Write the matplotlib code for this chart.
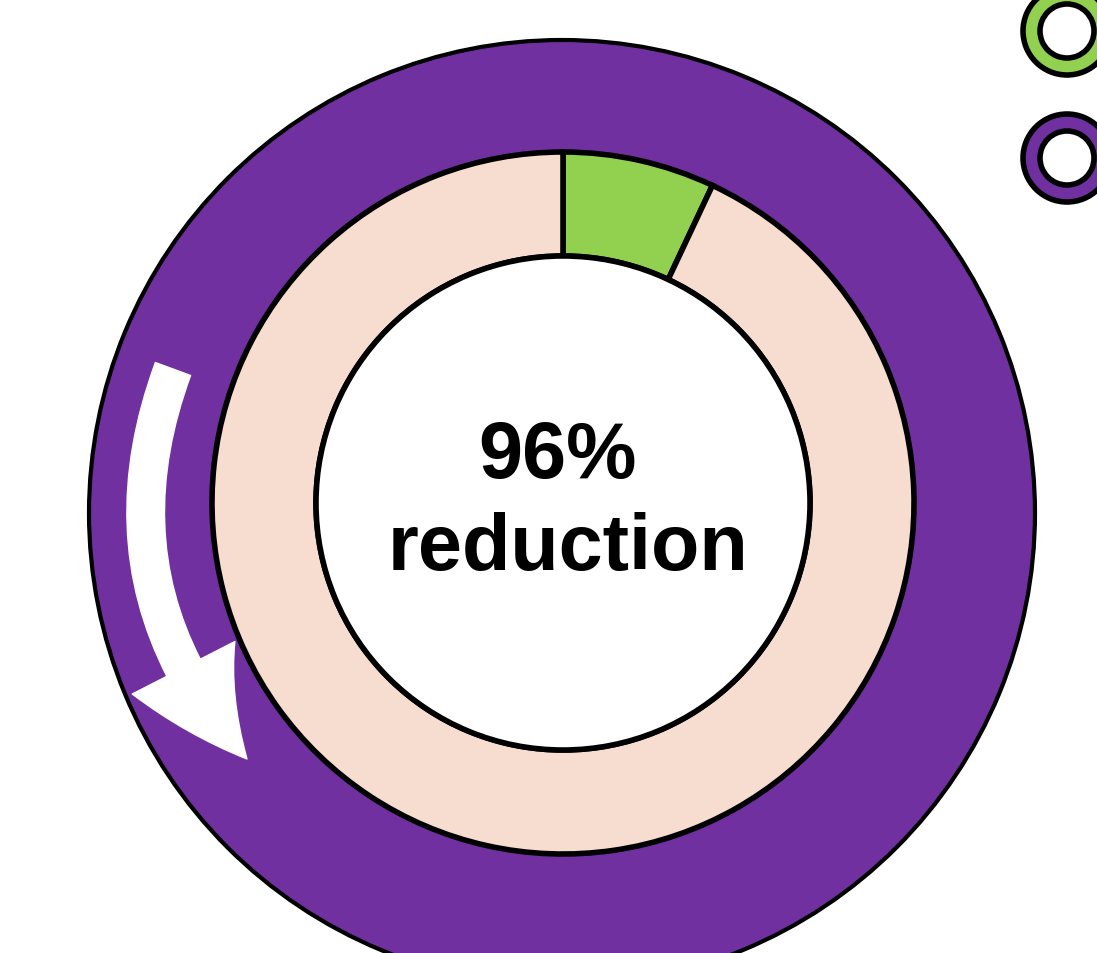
import matplotlib.pyplot as plt

# data
outer_values = [100]            # purple ring (before)
inner_values = [7, 93]          # green slice (after) + rest
inner_colors = ['#92D050', '#F7DCD0']
outer_color = '#7030A0'
center_text = ['96%', 'reduction']
legend_colors = ['#92D050', '#7030A0']

plt.rcParams['font.family'] = ['Liberation Sans', 'DejaVu Sans']

fig = plt.figure(figsize=(10.97, 9.54), dpi=100)
ax = fig.add_axes([0, 0, 1, 1])

# outer purple ring
ax.pie(outer_values, colors=[outer_color], radius=473, center=(562, 440),
       startangle=90, counterclock=False,
       wedgeprops=dict(width=473, edgecolor='black', linewidth=3))

# inner ring with green slice
ax.pie(inner_values, colors=inner_colors, radius=351, center=(563, 450),
       startangle=90, counterclock=False,
       wedgeprops=dict(width=104, edgecolor='black', linewidth=4))

# white hole
ax.pie([1], colors=['white'], radius=247, center=(563, 450),
       wedgeprops=dict(edgecolor='black', linewidth=4))

# legend rings at the top right (cut off by the edge)
for i, c in enumerate(legend_colors):
    ax.pie([1], colors=[c], radius=44, center=(1067, 922 - i * 127),
           wedgeprops=dict(width=17, edgecolor='black', linewidth=4))

# white curved arrow
ax.annotate('', xy=(247, 194), xytext=(173, 584),
            arrowprops=dict(arrowstyle='simple,head_width=8.3,head_length=8.0,tail_width=2.7',
                            connectionstyle='arc3,rad=0.3', color='white',
                            mutation_scale=10, shrinkA=0, shrinkB=0))

ax.text(557, 476, center_text[0], ha='center', va='baseline',
        fontsize=57, fontweight='bold', color='black')
ax.text(568, 384, center_text[1], ha='center', va='baseline',
        fontsize=57, fontweight='bold', color='black')

ax.set_xlim(0, 1097)
ax.set_ylim(0, 954)
ax.set_aspect('equal')
ax.axis('off')

plt.savefig('out.png', dpi=100)
